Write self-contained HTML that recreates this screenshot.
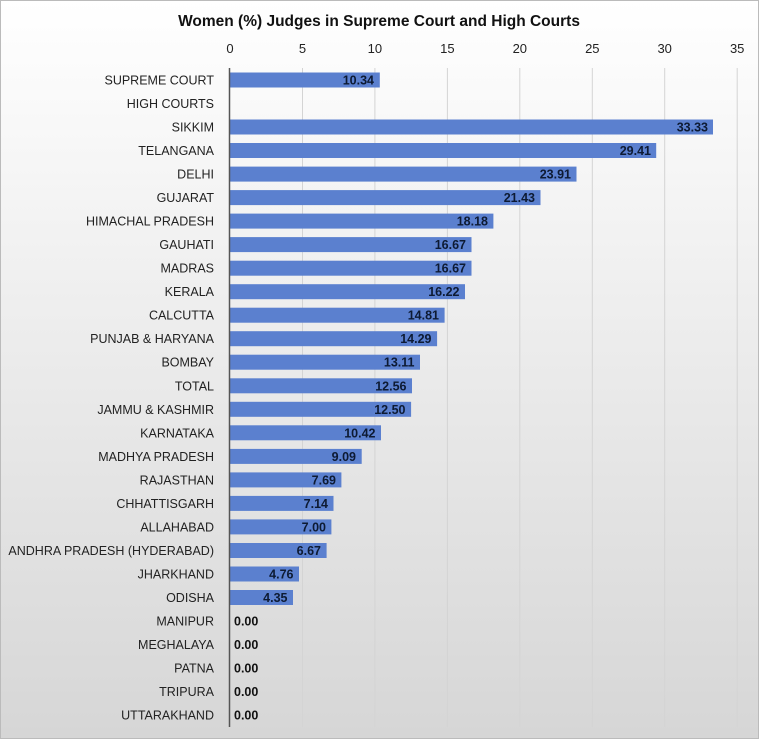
<!DOCTYPE html>
<html><head><meta charset="utf-8"><style>
html,body{margin:0;padding:0;width:759px;height:739px;overflow:hidden}
svg{display:block;font-family:"Liberation Sans",Arial,sans-serif}
</style></head><body>
<svg width="759" height="739" xmlns="http://www.w3.org/2000/svg">
<defs><linearGradient id="bg" x1="0" y1="0" x2="0" y2="1"><stop offset="0" stop-color="#ffffff"/><stop offset="1" stop-color="#d6d6d6"/></linearGradient></defs>
<rect x="0" y="0" width="759" height="739" fill="url(#bg)"/>
<rect x="0.5" y="0.5" width="758" height="738" fill="none" stroke="#bbb"/>
<text x="379" y="26" text-anchor="middle" font-size="15.5" font-weight="bold" fill="#111">Women (%) Judges in Supreme Court and High Courts</text>
<g stroke="#d4d4d4" stroke-width="1">
<line x1="302.5" y1="68" x2="302.5" y2="727"/><line x1="374.9" y1="68" x2="374.9" y2="727"/><line x1="447.4" y1="68" x2="447.4" y2="727"/><line x1="519.8" y1="68" x2="519.8" y2="727"/><line x1="592.3" y1="68" x2="592.3" y2="727"/><line x1="664.7" y1="68" x2="664.7" y2="727"/><line x1="737.2" y1="68" x2="737.2" y2="727"/>
</g>
<g font-size="13" fill="#222" text-anchor="middle">
<text x="230" y="53">0</text><text x="302.5" y="53">5</text><text x="374.9" y="53">10</text><text x="447.4" y="53">15</text><text x="519.8" y="53">20</text><text x="592.3" y="53">25</text><text x="664.7" y="53">30</text><text x="737.2" y="53">35</text>
</g>
<g fill="#5b80cf">
<rect x="230" y="72.5" width="149.8" height="15"/>
<rect x="230" y="119.5" width="483" height="15"/>
<rect x="230" y="143" width="426.2" height="15"/>
<rect x="230" y="166.6" width="346.5" height="15"/>
<rect x="230" y="190.1" width="310.5" height="15"/>
<rect x="230" y="213.6" width="263.4" height="15"/>
<rect x="230" y="237.1" width="241.5" height="15"/>
<rect x="230" y="260.7" width="241.5" height="15"/>
<rect x="230" y="284.2" width="235" height="15"/>
<rect x="230" y="307.7" width="214.6" height="15"/>
<rect x="230" y="331.2" width="207.1" height="15"/>
<rect x="230" y="354.7" width="190" height="15"/>
<rect x="230" y="378.3" width="182" height="15"/>
<rect x="230" y="401.8" width="181.1" height="15"/>
<rect x="230" y="425.3" width="151" height="15"/>
<rect x="230" y="448.9" width="131.7" height="15"/>
<rect x="230" y="472.4" width="111.4" height="15"/>
<rect x="230" y="495.9" width="103.5" height="15"/>
<rect x="230" y="519.4" width="101.4" height="15"/>
<rect x="230" y="543" width="96.6" height="15"/>
<rect x="230" y="566.5" width="69" height="15"/>
<rect x="230" y="590" width="63" height="15"/>
</g>
<line x1="229.5" y1="68" x2="229.5" y2="727" stroke="#555" stroke-width="1.5"/>
<g font-size="12.5" fill="#222" text-anchor="end">
<text x="214" y="84.5">SUPREME COURT</text>
<text x="214" y="108">HIGH COURTS</text>
<text x="214" y="131.5">SIKKIM</text>
<text x="214" y="155">TELANGANA</text>
<text x="214" y="178.6">DELHI</text>
<text x="214" y="202.1">GUJARAT</text>
<text x="214" y="225.6">HIMACHAL PRADESH</text>
<text x="214" y="249.1">GAUHATI</text>
<text x="214" y="272.7">MADRAS</text>
<text x="214" y="296.2">KERALA</text>
<text x="214" y="319.7">CALCUTTA</text>
<text x="214" y="343.2">PUNJAB &amp; HARYANA</text>
<text x="214" y="366.7">BOMBAY</text>
<text x="214" y="390.3">TOTAL</text>
<text x="214" y="413.8">JAMMU &amp; KASHMIR</text>
<text x="214" y="437.3">KARNATAKA</text>
<text x="214" y="460.9">MADHYA PRADESH</text>
<text x="214" y="484.4">RAJASTHAN</text>
<text x="214" y="507.9">CHHATTISGARH</text>
<text x="214" y="531.4">ALLAHABAD</text>
<text x="214" y="555">ANDHRA PRADESH (HYDERABAD)</text>
<text x="214" y="578.5">JHARKHAND</text>
<text x="214" y="602">ODISHA</text>
<text x="214" y="625.5">MANIPUR</text>
<text x="214" y="649">MEGHALAYA</text>
<text x="214" y="672.6">PATNA</text>
<text x="214" y="696.1">TRIPURA</text>
<text x="214" y="719.6">UTTARAKHAND</text>
</g>
<g font-size="12.5" font-weight="bold" fill="#0d1a33" text-anchor="end">
<text x="374" y="84.5">10.34</text>
<text x="708" y="131.5">33.33</text>
<text x="651" y="155">29.41</text>
<text x="571" y="178.6">23.91</text>
<text x="535" y="202.1">21.43</text>
<text x="488" y="225.6">18.18</text>
<text x="466" y="249.1">16.67</text>
<text x="466" y="272.7">16.67</text>
<text x="459.5" y="296.2">16.22</text>
<text x="439" y="319.7">14.81</text>
<text x="431.5" y="343.2">14.29</text>
<text x="414.5" y="366.7">13.11</text>
<text x="406.5" y="390.3">12.56</text>
<text x="405.5" y="413.8">12.50</text>
<text x="375.5" y="437.3">10.42</text>
<text x="356" y="460.9">9.09</text>
<text x="336" y="484.4">7.69</text>
<text x="328" y="507.9">7.14</text>
<text x="326" y="531.4">7.00</text>
<text x="321" y="555">6.67</text>
<text x="293.5" y="578.5">4.76</text>
<text x="287.5" y="602">4.35</text>
</g>
<g font-size="12.5" font-weight="bold" fill="#111">
<text x="234" y="625.5">0.00</text>
<text x="234" y="649">0.00</text>
<text x="234" y="672.6">0.00</text>
<text x="234" y="696.1">0.00</text>
<text x="234" y="719.6">0.00</text>
</g>
</svg>
</body></html>
